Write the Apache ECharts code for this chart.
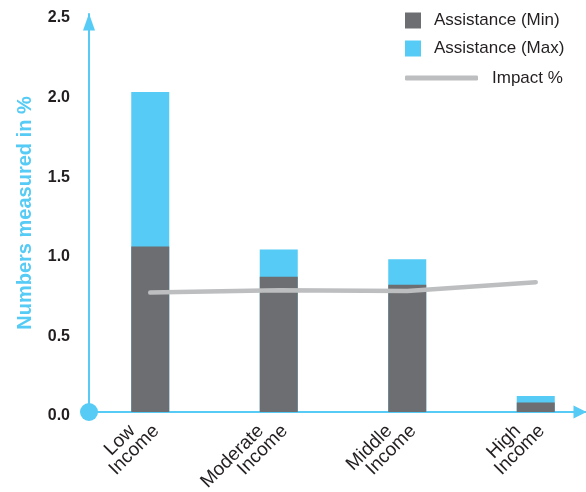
<!DOCTYPE html>
<html>
<head>
<meta charset="utf-8">
<script src="https://cdn.jsdelivr.net/npm/echarts@6/dist/echarts.min.js"></script>
<style>
html,body{margin:0;padding:0;background:#fff;}
#chart{width:586px;height:492px;}
</style>
</head>
<body>
<div id="chart"></div>
<script>
// ---- data ----
var categories = ['Low\nIncome', 'Moderate\nIncome', 'Middle\nIncome', 'High\nIncome'];
var assistanceMin = [1.04, 0.85, 0.80, 0.06];
var assistanceMax = [2.01, 1.02, 0.96, 0.10];
var impactPct = [0.75, 0.765, 0.76, 0.815];
var yTicks = [0, 0.5, 1.0, 1.5, 2.0, 2.5];

var FONT = '"Liberation Sans", Arial, Helvetica, sans-serif';
var BLUE = '#55cbf5';
var DARK = '#6d6e71';
var GREY = '#bcbec0';
var TEXT = '#231f20';

var chart = echarts.init(document.getElementById('chart'), null, {renderer: 'canvas'});

var option = {
  animation: false,
  textStyle: {fontFamily: FONT},
  grid: [
    {left: 86, width: 514, top: 14, bottom: 80, containLabel: false, outerBoundsMode: 'none'},
    {left: 89, right: 0, top: 14, bottom: 80, containLabel: false, outerBoundsMode: 'none'}
  ],
  legend: [
    {
      data: ['Assistance (Min)', 'Assistance (Max)'],
      orient: 'vertical', left: 405, top: 12, padding: 0,
      itemWidth: 16, itemHeight: 16, itemGap: 11, icon: 'rect',
      textStyle: {fontFamily: FONT, fontSize: 17, color: TEXT, lineHeight: 16, padding: [0, 0, 0, 8]}
    },
    {
      data: ['Impact %'],
      orient: 'vertical', left: 405, top: 69.5, padding: 0,
      itemWidth: 73, itemHeight: 5, icon: 'roundRect',
      itemStyle: {color: GREY},
      textStyle: {fontFamily: FONT, fontSize: 17, color: TEXT, lineHeight: 16, padding: [0, 0, 0, 9]}
    }
  ],
  xAxis: [
    {
      type: 'category', gridIndex: 0, data: categories,
      axisLine: {show: false}, axisTick: {show: false},
      axisLabel: {
        interval: 0, rotate: 45, margin: 10,
        fontFamily: FONT, fontSize: 19, color: TEXT,
        formatter: function (v) {
          var parts = v.split('\n');
          return '{a|' + parts[0] + '}\n{b|' + parts[1] + '}';
        },
        rich: {
          a: {fontFamily: FONT, fontSize: 19, color: TEXT, lineHeight: 17, padding: [0, 17, 0, 0]},
          b: {fontFamily: FONT, fontSize: 19, color: TEXT, lineHeight: 17}
        }
      }
    },
    {
      type: 'value', gridIndex: 1, min: 0, max: 1, position: 'bottom',
      axisLine: {show: true, onZero: false, lineStyle: {color: BLUE, width: 2},
        symbol: ['none', 'triangle'], symbolSize: [13, 13], symbolOffset: [0, -6]},
      axisTick: {show: false}, axisLabel: {show: false}, splitLine: {show: false}
    },
    {
      type: 'value', gridIndex: 1, min: 0, max: 1, position: 'bottom', offset: 0,
      axisLine: {show: true, onZero: false, lineStyle: {color: BLUE, width: 2},
        symbol: ['circle', 'none'], symbolSize: [18, 18]},
      axisTick: {show: false}, axisLabel: {show: false}, splitLine: {show: false}
    }
  ],
  yAxis: [
    {type: 'value', gridIndex: 0, min: 0, max: 2.5, interval: 0.5, show: false},
    {
      type: 'value', gridIndex: 1, min: 0, max: 2.5, interval: 0.5,
      name: 'Numbers measured in %', nameLocation: 'middle', nameGap: 54,
      nameTextStyle: {fontFamily: FONT, fontSize: 20, fontWeight: 'bold', color: BLUE},
      axisLine: {show: true, onZero: false, lineStyle: {color: BLUE, width: 2},
        symbol: ['none', 'triangle'], symbolSize: [12, 17], symbolOffset: [0, -8]},
      axisTick: {show: false}, splitLine: {show: false},
      axisLabel: {
        margin: 19, color: TEXT,
        formatter: function (v) { return '{t|' + v.toFixed(1) + '}'; },
        rich: {
          t: {fontFamily: FONT, fontSize: 16, fontWeight: 'bold', color: TEXT, lineHeight: 16, padding: [8, 0, 0, 0]}
        }
      }
    }
  ],
  series: [
    {
      name: 'Assistance (Min)', type: 'bar', xAxisIndex: 0, yAxisIndex: 0,
      data: assistanceMin, barWidth: 38, z: 3,
      itemStyle: {color: DARK}
    },
    {
      name: 'Assistance (Max)', type: 'bar', xAxisIndex: 0, yAxisIndex: 0,
      data: assistanceMax, barWidth: 38, barGap: '-100%', z: 2,
      itemStyle: {color: BLUE}
    },
    {
      name: 'Impact %', type: 'line', xAxisIndex: 0, yAxisIndex: 0,
      data: impactPct, symbol: 'none', z: 5,
      lineStyle: {color: GREY, width: 4.5, cap: 'round'},
      itemStyle: {color: GREY}
    }
  ]
};
chart.setOption(option);
</script>
</body>
</html>
